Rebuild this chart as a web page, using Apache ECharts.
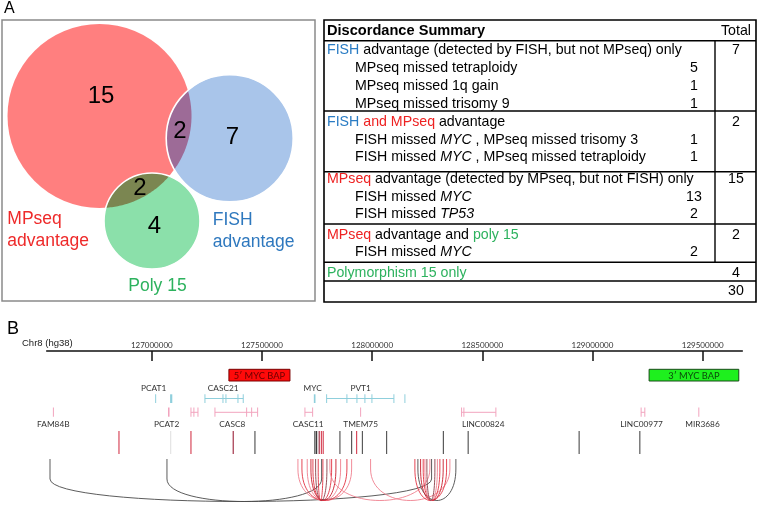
<!DOCTYPE html>
<html><head><meta charset="utf-8">
<script src="https://cdn.jsdelivr.net/npm/echarts@6.0.0/dist/echarts.min.js"></script>
<style>html,body{margin:0;padding:0;background:#fff;}#chart{width:758px;height:505px;}</style>
</head><body><div id="chart"></div>
<script>
// ================= DATA =================
// Panel A – Venn diagram
const vennSetNames = ['MPseq\nadvantage', 'FISH\nadvantage', 'Poly 15'];
const vennUniqueCounts = [15, 7, 4];
const vennOverlapPairs = [[0, 1], [0, 2]];
const vennOverlapCounts = [2, 2];

// Panel A – Discordance summary table
const summaryLabels = [
  '{b|Discordance Summary}',
  '{fish|FISH} advantage (detected by FISH, but not MPseq) only',
  'MPseq missed tetraploidy',
  'MPseq missed 1q gain',
  'MPseq missed trisomy 9',
  '{fish|FISH} {mp|and MPseq} advantage',
  'FISH missed {i|MYC} , MPseq missed trisomy 3',
  'FISH missed {i|MYC} , MPseq missed tetraploidy',
  '{mp|MPseq} advantage (detected by MPseq, but not FISH) only',
  'FISH missed {i|MYC}',
  'FISH missed {i|TP53}',
  '{mp|MPseq} advantage and {poly|poly 15}',
  'FISH missed {i|MYC}',
  '{poly|Polymorphism 15 only}',
  ''
];
const summaryIndent = [0, 0, 1, 1, 1, 0, 1, 1, 0, 1, 1, 0, 1, 0, 0];
const summaryCounts = ['', '', '5', '1', '1', '', '1', '1', '', '13', '2', '', '2', '', ''];
const summaryTotals = ['Total', '7', '', '', '', '2', '', '', '15', '', '', '2', '', '4', '30'];

// Panel B – chr8 region
const chromLabel = 'Chr8 (hg38)';
const tickPositions = [127000000, 127500000, 128000000, 128500000, 129000000, 129500000];
const probeNames = ['5\u2032 MYC BAP', '3\u2032 MYC BAP'];
const probeStarts = [127350000, 129257000];
const probeEnds = [127627000, 129664000];

// genes: track 0 = upper (blue), 1 = lower (pink)
const geneNames   = ['PCAT1', 'CASC21', 'MYC', 'PVT1', 'FAM84B', 'PCAT2', '', 'CASC8', 'CASC11', 'TMEM75', 'LINC00824', 'LINC00977', 'MIR3686'];
const geneTrack   = [0, 0, 0, 0, 1, 1, 1, 1, 1, 1, 1, 1, 1];
const geneStarts  = [null, 127241200, null, 127793400, null, null, 127177700, 127286600, 127695000, null, 128405900, 129220800, null];
const geneEnds    = [null, 127415000, null, 128098800, null, null, 127209500, 127480350, 127729900, null, 128561600, 129237600, null];
const geneLabelAt = [127008500, 127324000, 127730000, 127947700, 126553000, 127067500, null, 127365100, 127709900, 127947700, 128504000, 129222600, 129499400];
const geneExons = [
  [[127016500, 127018500], [127083000, 127093000]],
  [[127240200, 127242200], [127322000, 127324000], [127335500, 127337500], [127390000, 127392000], [127414000, 127416000]],
  [[127735400, 127742900]],
  [[127792400, 127794400], [127884500, 127886500], [127930000, 127932000], [127966200, 127968200], [127998000, 128000000], [128097800, 128099800], [128147700, 128149700]],
  [[126552400, 126554400]],
  [[127073500, 127080500]],
  [[127176700, 127178700], [127190000, 127192000], [127208500, 127210500]],
  [[127285600, 127287600], [127429400, 127431400], [127452100, 127454100], [127479300, 127481300]],
  [[127694000, 127696000], [127728900, 127730900]],
  [[127946700, 127948700]],
  [[128404900, 128406900], [128415400, 128417400], [128560600, 128562600]],
  [[129219800, 129221800], [129236600, 129238600]],
  [[129481600, 129483600]]
];

// breakpoints: kind 0 red, 1 dark red, 2 gray, 3 light gray, 4 dark
const breakpointPos  = [126851000, 127085600, 127177700, 127369600, 127468100, 127740300, 127748000, 127759800, 127769800, 127778000, 127853800, 127906800, 127929500, 127955900, 128065600, 128323400, 128435900, 128939500, 129214900];
const breakpointKind = [0, 3, 0, 1, 2, 4, 4, 1, 0, 0, 2, 2, 0, 2, 2, 2, 2, 2, 2];

// junctions (arcs) between breakpoints: kind 0 red, 1 pink, 2 deep red, 3 dark, 4 brownish
const junctionStarts = [126538000, 127068800, 128207700, 127663200, 127681400, 127705400, 127722200, 127731300, 127743500, 127755300, 127808400, 127993000, 128194000, 128219900, 128231700, 128239400, 128248500];
const junctionEnds   = [128269800, 127770700, 128380100, 127906900, 127885500, 127856900, 127835600, 127816100, 127794800, 127776600, 128262100, 128352900, 128337900, 128322500, 128307500, 128296100, 128284800];
const junctionKind   = [3, 3, 3, 1, 0, 1, 2, 0, 4, 0, 1, 1, 0, 2, 0, 1, 4];

// ================= LAYOUT / STYLE =================
const VENN = {x: 2, y: 20, w: 313, h: 281};
const vennGeom = [[97.5, 96, 92], [227.7, 118.3, 63.5], [150, 201, 48]];
const vennFill = ['#FF7F7F', '#A9C5EA', '#8BE0AA'];
const vennLensFill = ['#9D6B97', '#7B8651'];
const vennUniquePos = [[99, 76.7], [230.3, 117.7], [152.3, 206]];
const vennOverlapPos = [[178, 111.7], [138, 168.3]];
const vennLabelPos = [[5.3, 210, 'left'], [210.7, 211, 'left'], [155.5, 266, 'center']];
const vennLabelColor = ['#EE2A2A', '#2E78BE', '#2DB25E'];

const TB = {x0: 324, x1: 756, y0: 20, y1: 302, divX: 715, countX: 694, totalX: 736, ind0: 327, ind1: 355,
  rowY: [31, 50, 67.7, 86, 103.7, 122, 140, 156.7, 179.3, 196.7, 214, 235, 251.7, 272.7, 291],
  lineY: [40.7, 111, 171.7, 224, 262.3, 281]};
const FONT = '"Liberation Sans", Arial, sans-serif';
const tFont = '14.2px ' + FONT;
const richStyles = {
  b: {font: 'bold 14.6px ' + FONT, fill: '#000'},
  fish: {font: tFont, fill: '#2A7CC4'},
  mp: {font: tFont, fill: '#EE2222'},
  poly: {font: tFont, fill: '#2DB25E'},
  i: {font: 'italic ' + tFont, fill: '#000'}
};

const TRK = {probeTop: 18.3, probeBot: 30, topLabel: 37.3, topMarkTop: 43.3, topMarkBot: 52, topLine: 47.5,
  botMarkTop: 56.5, botMarkBot: 65.7, botLine: 61.3, botLabel: 73.3, bpTop: 80, bpBot: 103,
  arcTop: 108, bendShort: 118, bendLong: 128, depthShort: 42, depthLong: 30};
const probeFill = ['#FF0A0A', '#1EF01E'];
const probeStroke = ['#7A0000', '#1A4A1A'];
const probeText = ['#6A0000', '#0B4A0B'];
const geneColor = ['#8FCFDC', '#F2A4BE'];
const bpColor = ['#D84A5C', '#A3344A', '#5A5A5A', '#E4E4E4', '#3A3A3A'];
const jColor = ['#E23342', '#F07F8E', '#C81E2E', '#4A4A4A', '#8A3E48'];

// ================= BUILD =================
const chart = echarts.init(document.getElementById('chart'), null, {renderer: 'canvas'});

function lensPoints(c1, r1, c2, r2) {
  const dx = c2[0] - c1[0], dy = c2[1] - c1[1], d = Math.hypot(dx, dy);
  const a = (r1 * r1 - r2 * r2 + d * d) / (2 * d);
  const t12 = Math.atan2(dy, dx), t21 = t12 + Math.PI;
  const al1 = Math.acos(Math.max(-1, Math.min(1, a / r1)));
  const al2 = Math.acos(Math.max(-1, Math.min(1, (d - a) / r2)));
  const pts = [], N = 48;
  for (let k = 0; k <= N; k++) { const t = t12 - al1 + 2 * al1 * k / N; pts.push([c1[0] + r1 * Math.cos(t), c1[1] + r1 * Math.sin(t)]); }
  for (let k = 0; k <= N; k++) { const t = t21 - al2 + 2 * al2 * k / N; pts.push([c2[0] + r2 * Math.cos(t), c2[1] + r2 * Math.sin(t)]); }
  return pts;
}

const graphics = [];
graphics.push({type: 'text', x: 4, y: 9, style: {text: 'A', font: '16px ' + FONT, fill: '#000', verticalAlign: 'middle', textVerticalAlign: 'middle'}});
graphics.push({type: 'text', x: 7, y: 329, style: {text: 'B', font: '18px ' + FONT, fill: '#000', verticalAlign: 'middle', textVerticalAlign: 'middle'}});
graphics.push({type: 'rect', shape: {x: VENN.x, y: VENN.y, width: VENN.w, height: VENN.h}, style: {fill: 'none', stroke: '#8A8A8A', lineWidth: 1.5}, z: -1});
graphics.push({type: 'text', x: 22, y: 343, style: {text: chromLabel, font: '9.5px ' + FONT, fill: '#222', verticalAlign: 'middle', textVerticalAlign: 'middle'}});
// table
graphics.push({type: 'rect', shape: {x: TB.x0, y: TB.y0, width: TB.x1 - TB.x0, height: TB.y1 - TB.y0}, style: {fill: 'none', stroke: '#000', lineWidth: 1.6}});
TB.lineY.forEach(y => graphics.push({type: 'line', shape: {x1: TB.x0, y1: y, x2: TB.x1, y2: y}, style: {stroke: '#000', lineWidth: 1.4}}));
graphics.push({type: 'line', shape: {x1: TB.divX, y1: TB.lineY[0], x2: TB.divX, y2: TB.lineY[4]}, style: {stroke: '#000', lineWidth: 1.4}});
summaryLabels.forEach((t, i) => {
  if (t) graphics.push({type: 'text', x: summaryIndent[i] ? TB.ind1 : TB.ind0, y: TB.rowY[i],
    style: {text: t, font: tFont, fill: '#000', rich: richStyles, verticalAlign: 'middle', textVerticalAlign: 'middle'}});
  if (summaryCounts[i]) graphics.push({type: 'text', x: TB.countX, y: TB.rowY[i],
    style: {text: summaryCounts[i], font: tFont, fill: '#000', align: 'center', textAlign: 'center', verticalAlign: 'middle', textVerticalAlign: 'middle'}});
  if (summaryTotals[i]) graphics.push({type: 'text', x: TB.totalX, y: TB.rowY[i],
    style: {text: summaryTotals[i], font: tFont, fill: '#000', align: 'center', textAlign: 'center', verticalAlign: 'middle', textVerticalAlign: 'middle'}});
});

function circlePx(api, i) {
  const g = vennGeom[i];
  const p = api.coord([g[0], g[1]]);
  return [p, api.size([g[2], 0])[0]];
}

const series = [
  // Venn circles
  {type: 'custom', xAxisIndex: 0, yAxisIndex: 0, z: 2, silent: true,
    data: vennUniqueCounts.map((c, i) => [vennGeom[i][0], vennGeom[i][1], c]), encode: {x: 0, y: 1},
    renderItem(params, api) {
      const [p, r] = circlePx(api, params.dataIndex);
      return {type: 'circle', shape: {cx: p[0], cy: p[1], r}, style: {fill: vennFill[params.dataIndex]}};
    }},
  // Venn overlaps
  {type: 'custom', xAxisIndex: 0, yAxisIndex: 0, z: 3, silent: true,
    data: vennOverlapCounts.map((c, i) => [vennOverlapPos[i][0], vennOverlapPos[i][1], c]), encode: {x: 0, y: 1},
    renderItem(params, api) {
      const pr = vennOverlapPairs[params.dataIndex];
      const [p1, r1] = circlePx(api, pr[0]);
      const [p2, r2] = circlePx(api, pr[1]);
      return {type: 'polygon', shape: {points: lensPoints(p1, r1, p2, r2)}, style: {fill: vennLensFill[params.dataIndex]}};
    }},
  // Venn white outlines
  {type: 'custom', xAxisIndex: 0, yAxisIndex: 0, z: 4, silent: true,
    data: [1, 2].map(i => [vennGeom[i][0], vennGeom[i][1], i]), encode: {x: 0, y: 1},
    renderItem(params, api) {
      const [p, r] = circlePx(api, api.value(2));
      return {type: 'circle', shape: {cx: p[0], cy: p[1], r}, style: {fill: 'none', stroke: '#fff', lineWidth: 1.6}};
    }},
  // Venn counts
  {type: 'custom', xAxisIndex: 0, yAxisIndex: 0, z: 5, silent: true,
    data: vennUniqueCounts.map((c, i) => [vennUniquePos[i][0], vennUniquePos[i][1], c])
      .concat(vennOverlapCounts.map((c, i) => [vennOverlapPos[i][0], vennOverlapPos[i][1], c])),
    encode: {x: 0, y: 1},
    renderItem(params, api) {
      const p = api.coord([api.value(0), api.value(1)]);
      return {type: 'text', x: p[0], y: p[1], style: {text: String(api.value(2)), font: '24px ' + FONT, fill: '#000',
        align: 'center', textAlign: 'center', verticalAlign: 'middle', textVerticalAlign: 'middle'}};
    }},
  // Venn set labels
  {type: 'custom', xAxisIndex: 0, yAxisIndex: 0, z: 5, silent: true,
    data: vennSetNames.map((n, i) => [vennLabelPos[i][0], vennLabelPos[i][1], i]), encode: {x: 0, y: 1},
    renderItem(params, api) {
      const i = params.dataIndex;
      const p = api.coord([api.value(0), api.value(1)]);
      return {type: 'text', x: p[0], y: p[1], style: {text: vennSetNames[i], font: '17.5px ' + FONT, lineHeight: 22,
        fill: vennLabelColor[i], align: vennLabelPos[i][2], textAlign: vennLabelPos[i][2], verticalAlign: 'middle', textVerticalAlign: 'middle'}};
    }},
  // ---- Panel B ----
  // probes
  {type: 'custom', xAxisIndex: 1, yAxisIndex: 1, z: 3, silent: true,
    data: probeNames.map((n, i) => [probeStarts[i], probeEnds[i]]), encode: {x: [0, 1]},
    renderItem(params, api) {
      const i = params.dataIndex;
      const a = api.coord([api.value(0), TRK.probeTop]);
      const b = api.coord([api.value(1), TRK.probeBot]);
      return {type: 'group', children: [
        {type: 'rect', shape: {x: a[0], y: a[1], width: b[0] - a[0], height: b[1] - a[1]}, style: {fill: probeFill[i], stroke: probeStroke[i], lineWidth: 1}},
        {type: 'text', x: (a[0] + b[0]) / 2, y: (a[1] + b[1]) / 2 + 0.5, style: {text: probeNames[i], font: '9.3px Lato, ' + FONT, fill: probeText[i],
          align: 'center', textAlign: 'center', verticalAlign: 'middle', textVerticalAlign: 'middle'}}
      ]};
    }},
  // genes
  {type: 'custom', xAxisIndex: 1, yAxisIndex: 1, z: 3, silent: true,
    data: geneNames.map((n, i) => [geneLabelAt[i] || geneExons[i][0][0], 0]), encode: {x: 0, y: 1},
    renderItem(params, api) {
      const i = params.dataIndex, tr = geneTrack[i], col = geneColor[tr];
      const yTop = tr ? TRK.botMarkTop : TRK.topMarkTop, yBot = tr ? TRK.botMarkBot : TRK.topMarkBot;
      const yLine = tr ? TRK.botLine : TRK.topLine, yLab = tr ? TRK.botLabel : TRK.topLabel;
      const kids = [];
      if (geneStarts[i] != null) {
        const s = api.coord([geneStarts[i], yLine]), e = api.coord([geneEnds[i], yLine]);
        kids.push({type: 'line', shape: {x1: s[0], y1: s[1], x2: e[0], y2: e[1]}, style: {stroke: col, lineWidth: 1}});
      }
      geneExons[i].forEach(ex => {
        const s = api.coord([ex[0], yTop]), e = api.coord([ex[1], yBot]);
        const w = Math.max(1, e[0] - s[0]);
        kids.push({type: 'rect', shape: {x: (s[0] + e[0]) / 2 - w / 2, y: s[1], width: w, height: e[1] - s[1]}, style: {fill: col}});
      });
      if (geneNames[i]) {
        const l = api.coord([geneLabelAt[i], yLab]);
        kids.push({type: 'text', x: l[0], y: l[1], style: {text: geneNames[i], font: '8.3px Lato, ' + FONT, fill: '#333',
          align: 'center', textAlign: 'center', verticalAlign: 'middle', textVerticalAlign: 'middle'}});
      }
      return {type: 'group', children: kids};
    }},
  // breakpoints
  {type: 'custom', xAxisIndex: 1, yAxisIndex: 1, z: 3, silent: true,
    data: breakpointPos.map(p => [p, TRK.bpTop]), encode: {x: 0, y: 1},
    renderItem(params, api) {
      const a = api.coord([api.value(0), TRK.bpTop]), b = api.coord([api.value(0), TRK.bpBot]);
      return {type: 'line', shape: {x1: a[0], y1: a[1], x2: b[0], y2: b[1]}, style: {stroke: bpColor[breakpointKind[params.dataIndex]], lineWidth: 1.2}};
    }},
  // junction arcs
  {type: 'custom', xAxisIndex: 1, yAxisIndex: 1, z: 3, silent: true,
    data: junctionStarts.map((s, i) => [s, junctionEnds[i]]), encode: {x: [0, 1]},
    renderItem(params, api) {
      const i = params.dataIndex;
      const x1 = api.coord([api.value(0), TRK.arcTop])[0], x2 = api.coord([api.value(1), TRK.arcTop])[0];
      const long = Math.abs(x2 - x1) > 150;
      const yT = api.coord([api.value(0), TRK.arcTop])[1];
      const y0 = api.coord([api.value(0), long ? TRK.bendLong : TRK.bendShort])[1];
      const yc = api.coord([api.value(0), (long ? TRK.bendLong : TRK.bendShort) + (long ? TRK.depthLong : TRK.depthShort)])[1];
      const d = `M${x1},${yT}L${x1},${y0}C${x1},${yc} ${x2},${yc} ${x2},${y0}L${x2},${yT}`;
      return {type: 'path', shape: {pathData: d}, style: {fill: 'none', stroke: jColor[junctionKind[i]], lineWidth: 1, opacity: 0.9}};
    }}
];

const option = {
  animation: false,
  grid: [
    {left: VENN.x, top: VENN.y, width: VENN.w, height: VENN.h, show: false},
    {left: 46.7, top: 351, width: 695.6, height: 154, show: false}
  ],
  xAxis: [
    {gridIndex: 0, type: 'value', min: 0, max: VENN.w, show: false},
    {gridIndex: 1, type: 'value', position: 'top', min: 126523000, max: 129680000,
      axisLine: {show: true, onZero: false, lineStyle: {color: '#111', width: 1.5}},
      axisTick: {show: true, inside: true, length: 10, customValues: tickPositions, lineStyle: {color: '#111', width: 1.5}},
      axisLabel: {show: true, customValues: tickPositions, margin: 2, color: '#333', fontSize: 8, fontFamily: 'Lato', formatter: v => String(v)},
      splitLine: {show: false}}
  ],
  yAxis: [
    {gridIndex: 0, type: 'value', min: 0, max: VENN.h, inverse: true, show: false},
    {gridIndex: 1, type: 'value', min: 0, max: 154, inverse: true, show: false}
  ],
  graphic: {elements: graphics},
  series
};
chart.setOption(option);
</script></body></html>
